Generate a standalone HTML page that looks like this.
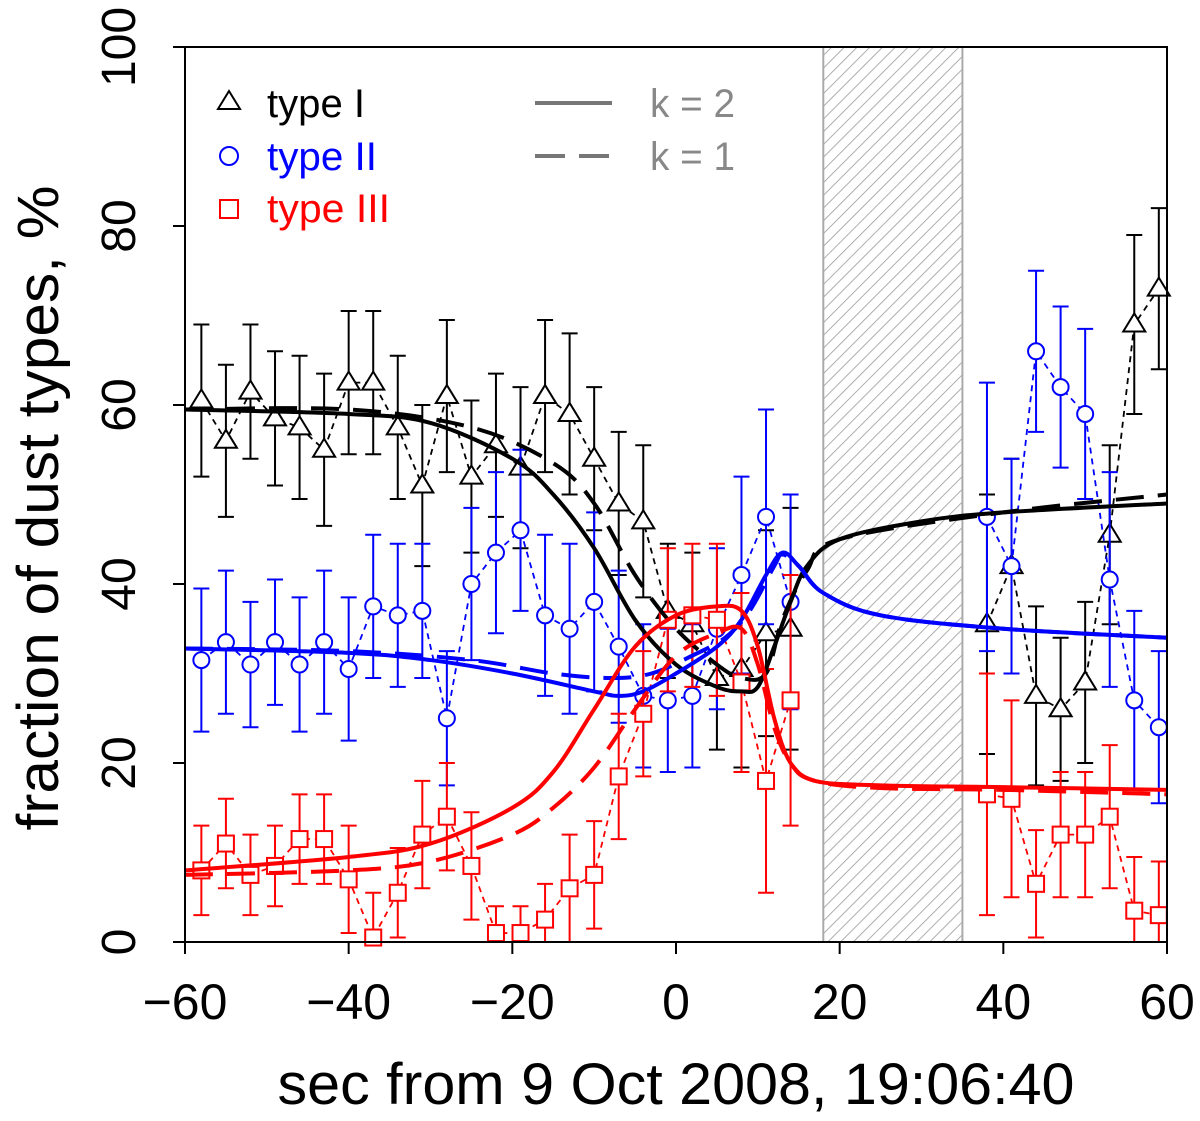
<!DOCTYPE html>
<html><head><meta charset="utf-8"><style>
body{margin:0;background:#fff}
svg{display:block;font-family:"Liberation Sans",sans-serif}
</style></head><body>
<svg id="chart" width="1200" height="1121" viewBox="0 0 1200 1121">
<defs>
<pattern id="hatch" patternUnits="userSpaceOnUse" width="9" height="9" patternTransform="rotate(45)">
<line x1="0" y1="0" x2="0" y2="9" stroke="#999" stroke-width="1.6"/>
</pattern>
</defs>
<g id="plot"></g>
</svg>
<script>
const tObs1 = [-58,-55,-52,-49,-46,-43,-40,-37,-34,-31,-28,-25,-22,-19,-16,-13,-10,-7,-4,-1,2,5,8,11,14];
const tObs2 = [38,41,44,47,50,53,56,59];
const type1 = [60.5,56,61.5,58.5,57.5,55,62.5,62.5,57.5,51,61,52,55.5,53,61,59,54,49,47,37,35.5,29.5,30.5,34.5,35, 35.5,42,27.5,26,29,45.5,69,73];
const type1Err = [8.5,8.5,7.5,7.5,8,8.5,8,8,8,9,8.5,8.5,8,9,8.5,9,8,8,8.5,7.5,8,8,11,11.5,13.5, 14.5,12,10,8,9,10,10,9];
const type2 = [31.5,33.5,31,33.5,31,33.5,30.5,37.5,36.5,37,25,40,43.5,46,36.5,35,38,33,27.5,27,27.5,35,41,47.5,38, 47.5,42,66,62,59,40.5,27,24];
const type2Err = [8,8,7,7,7.5,8,8,8,8,7.5,7.5,8.5,9,9,9,9.5,10,8.5,8,8,8,9,11,12,12, 15,12,9,9,9.5,12,10,8.5];
const type3 = [8,11,7.5,8.5,11.5,11.5,7,0.5,5.5,12,14,8.5,1,1,2.5,6,7.5,18.5,25.5,36,36.5,36,29,18,27, 16.5,16,6.5,12,12,14,3.5,3];
const type3Err = [5,5,4.5,4.5,5,5,6,5,5,6,6,6,3,3,4,6,6,7,7,8,8,8.5,10,12.5,14, 13.5,11,6,7,7,8,6,6];
const fitX1 = [-60,-40,-30,-20,-15,-10,-5,0,5,8,10,12,14,16,20,30,40,60];
const fit1K2 = [59.5,59,58,54,50,44,36,31,28.5,28,28.5,33,38,42,45,47,48,49];
const fitX1d = [-60,-40,-25,-15,-10,-5,0,5,8,11,13,16,20,40,60];
const fit1K1 = [59.5,59.5,57.5,53.5,49,41,35,31,29.5,30,36,41.5,45,48,50];
const fitX2 = [-60,-40,-30,-20,-10,-7,-4,0,5,8,11,13,15,18,25,40,60];
const fit2K2 = [32.8,32.3,31.5,30,28,27.5,28,30,33,36,41,43.5,42,39,36.5,35,34];
const fitX2d = [-60,-40,-25,-15,-8,-3,2,6,9,12,13,15,18,25,40,60];
const fit2K1 = [32.8,32.5,31.5,30,29.5,30,32,34,37,42,43.3,42,39,36.5,35,34];
const fitX3 = [-60,-40,-30,-20,-15,-10,-5,0,5,8,10,12,14,17,25,40,60];
const fit3K2 = [8,9.5,11,15,19,26,33,36.5,37.5,37,33,25,20,18,17.5,17.3,17];
const fit3K1 = [7.5,8,9,12,15,19.5,26,32,34.5,35,31,24,20,18,17.2,17,16.5];
const xTicks = [-60,-40,-20,0,20,40,60];
const yTicks = [0,20,40,60,80,100];
const hatchRange = [18,35];

const X0=185,X1=1167,Y0=942,Y1=47;
const sx = v => X0 + (v+60)/120*(X1-X0);
const sy = v => Y0 - v/100*(Y0-Y1);
const NS="http://www.w3.org/2000/svg";
const g=document.getElementById('plot');
function mk(tag,attrs,parent){const e=document.createElementNS(NS,tag);for(const k in attrs)e.setAttribute(k,attrs[k]);(parent||g).appendChild(e);return e;}

let hr=mk('rect',{x:sx(hatchRange[0]),y:Y1,width:sx(hatchRange[1])-sx(hatchRange[0]),height:Y0-Y1,fill:'url(#hatch)',stroke:'#aaa','stroke-width':2});



function smooth(xs,ys){
  const p=xs.map((x,i)=>[sx(x),sy(ys[i])]);
  let d='M'+p[0][0]+','+p[0][1];
  for(let i=0;i<p.length-1;i++){
    const a=p[Math.max(i-1,0)],b=p[i],c=p[i+1],e=p[Math.min(i+2,p.length-1)];
    const c1=[b[0]+(c[0]-a[0])/6,b[1]+(c[1]-a[1])/6],c2=[c[0]-(e[0]-b[0])/6,c[1]-(e[1]-b[1])/6];
    d+=`C${c1[0]},${c1[1]} ${c2[0]},${c2[1]} ${c[0]},${c[1]}`;
  }
  return d;
}
const tAll=tObs1.concat(tObs2);
function series(vals,errs,color,marker,name){
  const grp=mk('g',{});
  
  
  [tObs1,tObs2].forEach((ts,si)=>{
    const off=si?tObs1.length:0;
    let pts=ts.map((t,i)=>sx(t)+','+sy(vals[off+i])).join(' ');
    mk('polyline',{points:pts,fill:'none',stroke:color,'stroke-width':1.8,'stroke-dasharray':'6,5'},grp);
  });
  tAll.forEach((t,i)=>{
    const x=sx(t),lo=sy(Math.max(0,vals[i]-errs[i])),hi=sy(Math.min(100,vals[i]+errs[i])),y=sy(vals[i]);
    const eb=mk('path',{d:`M${x},${lo}V${hi}M${x-8},${lo}H${x+8}M${x-8},${hi}H${x+8}`,stroke:color,'stroke-width':2,fill:'none'},grp);
    
    
    let m;
    if(marker==='tri') m=mk('path',{d:`M${x},${y-11}L${x+11},${y+7}L${x-11},${y+7}Z`,fill:'#fff',stroke:color,'stroke-width':2},grp);
    else if(marker==='circ') m=mk('circle',{cx:x,cy:y,r:8,fill:'#fff',stroke:color,'stroke-width':2},grp);
    else m=mk('rect',{x:x-8,y:y-8,width:16,height:16,fill:'#fff',stroke:color,'stroke-width':2},grp);
    
    
  });
}
series(type1,type1Err,'#000','tri','type-1');
series(type2,type2Err,'#0000ff','circ','type-2');
series(type3,type3Err,'#ff0000','sq','type-3');

function fit(xs,ys,color,dash,name){
  const p=mk('path',{d:smooth(xs,ys),fill:'none',stroke:color,'stroke-width':4});
  if(dash)p.setAttribute('stroke-dasharray','28,14');
  
  
}
fit(fitX1,fit1K2,'#000',false,'type-1-fit-k2');
fit(fitX1d,fit1K1,'#000',true,'type-1-fit-k1');
fit(fitX2,fit2K2,'#0000ff',false,'type-2-fit-k2');
fit(fitX2d,fit2K1,'#0000ff',true,'type-2-fit-k1');
fit(fitX3,fit3K2,'#ff0000',false,'type-3-fit-k2');
fit(fitX3,fit3K1,'#ff0000',true,'type-3-fit-k1');

let fr=mk('rect',{x:X0,y:Y1,width:X1-X0,height:Y0-Y1,fill:'none',stroke:'#000','stroke-width':2});


xTicks.forEach(t=>{
  mk('line',{x1:sx(t),x2:sx(t),y1:Y0,y2:Y0+12,stroke:'#000','stroke-width':2});
  const tx=mk('text',{x:sx(t),y:1019,'font-size':50,'text-anchor':'middle'});
  tx.textContent=t<0?'\u2212'+(-t):t;
  
  
});
yTicks.forEach(t=>{
  mk('line',{x1:X0,x2:X0-12,y1:sy(t),y2:sy(t),stroke:'#000','stroke-width':2});
  const tx=mk('text',{x:135,y:sy(t),'font-size':48,'text-anchor':'middle',transform:`rotate(-90 135 ${sy(t)})`});
  tx.textContent=t;
  
  
});
let xt=mk('text',{x:676,y:1104,'font-size':58,'text-anchor':'middle',textLength:797,lengthAdjust:'spacingAndGlyphs'});
xt.textContent='sec from 9 Oct 2008, 19:06:40';


let yt=mk('text',{x:58,y:508,'font-size':58,'text-anchor':'middle',transform:'rotate(-90 58 508)',textLength:645,lengthAdjust:'spacingAndGlyphs'});
yt.textContent='fraction of dust types, %';



const lg=mk('g',{});


mk('path',{d:'M229,91L240,109L218,109Z',fill:'none',stroke:'#000','stroke-width':2},lg);
mk('circle',{cx:229,cy:156,r:9,fill:'none',stroke:'#0000ff','stroke-width':2},lg);
mk('rect',{x:220,y:200,width:18,height:18,fill:'none',stroke:'#ff0000','stroke-width':2},lg);
[['type I','#000',117,98],['type II','#0000ff',170,110],['type III','#ff0000',222,123]].forEach(([s,c,y,w])=>{
  const t=mk('text',{x:267,y:y,'font-size':40,fill:c,textLength:w,lengthAdjust:'spacingAndGlyphs'},lg);t.textContent=s;
  
  
});
mk('line',{x1:535,x2:612,y1:103,y2:103,stroke:'#777','stroke-width':4},lg);
mk('line',{x1:535,x2:612,y1:156,y2:156,stroke:'#777','stroke-width':4,'stroke-dasharray':'30,14'},lg);
[['k = 2',117],['k = 1',170]].forEach(([s,y])=>{
  const t=mk('text',{x:650,y:y,'font-size':40,fill:'#888',textLength:85,lengthAdjust:'spacingAndGlyphs'},lg);t.textContent=s;
  
  
});
</script>
</body></html>
